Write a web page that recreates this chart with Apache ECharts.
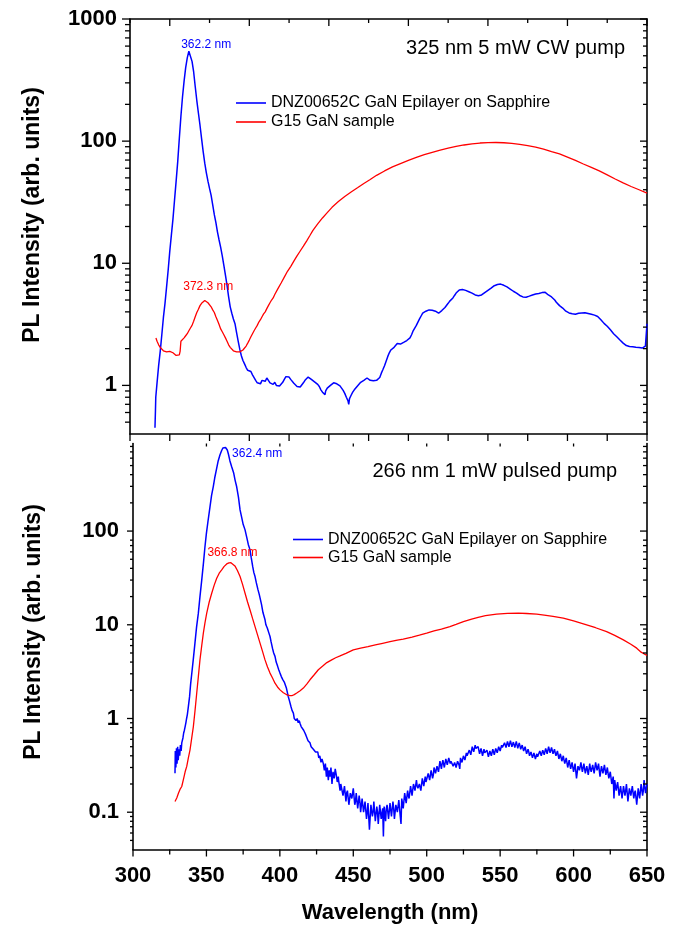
<!DOCTYPE html>
<html><head><meta charset="utf-8">
<script src="https://cdn.jsdelivr.net/npm/echarts@6/dist/echarts.min.js"></script>
<style>html,body{margin:0;padding:0;background:#fff}#c{width:676px;height:927px}</style>
</head><body><div id="c"></div>
<script>
// ---------- DATA ----------
const seriesNames = ['DNZ00652C GaN Epilayer on Sapphire', 'G15 GaN sample'];
const topTitle = '325 nm 5 mW CW pump';
const botTitle = '266 nm 1 mW pulsed pump';
const yTitle = 'PL Intensity (arb. units)';
const xTitle = 'Wavelength (nm)';

// top panel (325 nm CW) : [wavelength nm, intensity]
const topBlue = [[340.7,0.45],[341.0,0.62],[341.2,0.8],[342,1.05],[343,1.45],[344,1.9],[345,2.6],[346,3.6],[347,4.7],[348,6.4],[349,8.8],[350,12.5],[351,17],[352,23],[353,33],[354,47],[355,68],[356,105],[357,160],[358,230],[359,310],[360,400],[361,480],[362,545],[362.3,558],[363,530],[364,450],[365,370],[366,280],[367,215],[368,170],[369,135],[370,105],[371,82],[372,66],[373,55],[374,47],[375,41],[376,36],[377,30],[378,25],[379,21.5],[380,18],[381,15.5],[382,13.5],[383,11.5],[384,9.6],[385,8],[386,6.6],[387,5.3],[388,4.4],[389,3.9],[390,3.5],[391,3.2],[392,2.7],[393,2.3],[394,1.98],[395,1.75],[396,1.6],[397,1.5],[398,1.4],[399,1.33],[400,1.34],[401,1.3],[402,1.22],[403,1.18],[404,1.1],[405,1.05],[406,1.08],[407,1.03],[408,1.1],[409,1.12],[410,1.08],[411,1.15],[412,1.1],[413,1.05],[414,1.08],[415,1.02],[416,1.06],[417,1.0],[418,0.97],[419,0.99],[420,1.02],[421,1.06],[422,1.12],[423,1.18],[424,1.22],[425,1.17],[426,1.12],[427,1.08],[428,1.04],[429,1.02],[430,0.98],[431,1.0],[432,0.97],[433,0.99],[434,1.05],[435,1.1],[436,1.14],[437,1.17],[438,1.19],[439,1.12],[440,1.1],[441,1.07],[442,1.08],[443,1.02],[444,0.98],[445,0.92],[446,0.88],[447,0.9],[447.6,0.84],[448,0.9],[449,0.95],[450,0.97],[451,1.0],[452,1.02],[453,1.05],[454,1.06],[455,1.03],[456,1.05],[457,0.99],[458,0.95],[459,0.91],[460,0.86],[461,0.8],[462,0.75],[462.5,0.7],[463,0.78],[464,0.83],[465,0.88],[466,0.92],[467,0.95],[468,0.99],[469,1.02],[470,1.06],[471,1.08],[472,1.1],[473,1.13],[474,1.15],[475,1.12],[476,1.1],[477,1.07],[478,1.09],[479,1.12],[480,1.1],[481,1.13],[482,1.16],[483,1.26],[484,1.35],[485,1.45],[486,1.58],[487,1.72],[488,1.85],[489,1.95],[490,2.0],[491,2.05],[492,2.1],[493,2.2],[494,2.22],[495,2.18],[496,2.22],[497,2.25],[498,2.28],[499,2.33],[500,2.38],[501,2.45],[502,2.6],[503,2.8],[504,2.95],[505,3.1],[506,3.3],[507,3.5],[508,3.7],[509,3.9],[510,4.0],[511,4.05],[512,4.1],[513,4.15],[514,4.17],[515,4.12],[516,4.1],[517,4.05],[518,3.95],[519,3.9],[520,4.0],[521,4.1],[522,4.25],[523,4.35],[524,4.45],[525,4.7],[526,4.9],[527,5.05],[528,5.2],[529,5.45],[530,5.7],[531,5.9],[532,6.05],[533,6.15],[534,6.1],[535,6.05],[536,6.0],[537,5.9],[538,5.85],[539,5.8],[540,5.7],[541,5.6],[542,5.5],[543,5.45],[544,5.42],[545,5.42],[546,5.5],[547,5.6],[548,5.75],[549,5.9],[550,6.0],[551,6.1],[552,6.25],[553,6.4],[554,6.55],[555,6.65],[556,6.7],[557,6.8],[558,6.75],[559,6.7],[560,6.6],[561,6.5],[562,6.4],[563,6.3],[564,6.15],[565,6.0],[566,5.9],[567,5.8],[568,5.7],[569,5.55],[570,5.45],[571,5.35],[572,5.3],[573,5.25],[574,5.27],[575,5.32],[576,5.38],[577,5.45],[578,5.5],[579,5.55],[580,5.6],[581,5.62],[582,5.65],[583,5.7],[584,5.75],[585,5.8],[586,5.78],[587,5.65],[588,5.5],[589,5.4],[590,5.3],[591,5.2],[592,5.0],[593,4.8],[594,4.65],[595,4.5],[596,4.4],[597,4.3],[598,4.15],[599,4.05],[600,3.98],[601,3.92],[602,3.88],[603,3.86],[604,3.85],[605,3.83],[606,3.88],[607,3.9],[608,3.87],[609,3.92],[610,3.9],[611,3.93],[612,3.91],[613,3.88],[614,3.86],[615,3.82],[616,3.78],[617,3.76],[618,3.7],[619,3.67],[620,3.55],[621,3.45],[622,3.35],[623,3.22],[624,3.15],[625,3.05],[626,2.95],[627,2.85],[628,2.75],[629,2.65],[630,2.6],[631,2.5],[632,2.42],[633,2.35],[634,2.28],[635,2.22],[636,2.16],[637,2.12],[638,2.1],[639,2.08],[640,2.08],[641,2.07],[642,2.06],[643,2.05],[644,2.07],[645,2.04],[646,2.05],[647,2.02],[648,2.0],[649,2.1],[649.5,2.6],[650,3.2]];

const topRed = [[341.3,2.44],[342,2.3],[343,2.15],[344,2.05],[345,2.0],[346,1.92],[347,1.98],[348,1.88],[349,1.95],[350,1.9],[351,1.97],[352,1.85],[353,1.8],[354,1.76],[355,1.8],[356,1.78],[356.5,1.9],[357,2.3],[358,2.35],[359,2.45],[360,2.55],[361,2.65],[362,2.8],[363,2.95],[364,3.1],[365,3.35],[366,3.65],[367,3.95],[368,4.2],[369,4.5],[370,4.7],[371,4.85],[372,4.95],[372.6,4.95],[373,4.9],[374,4.75],[375,4.6],[376,4.4],[377,4.15],[378,3.95],[379,3.65],[380,3.4],[381,3.15],[382,2.9],[383,2.75],[384,2.6],[385,2.45],[386,2.3],[387,2.15],[388,2.05],[389,1.98],[390,1.92],[391,1.9],[392,1.88],[393,1.9],[394,1.88],[395,1.92],[396,1.95],[397,2.02],[398,2.1],[399,2.22],[400,2.35],[401,2.5],[402,2.65],[403,2.8],[404,2.95],[405,3.1],[406,3.3],[407,3.45],[408,3.65],[409,3.85],[410,4.0],[411,4.25],[412,4.5],[413,4.75],[414,5.0],[415,5.2],[416,5.55],[418,6.2],[420,6.9],[422,7.7],[424,8.6],[426,9.4],[428,10.4],[430,11.5],[432,12.6],[434,13.8],[436,15.2],[438,16.8],[440,18.6],[443,21],[446,23.5],[449,26],[452,28.7],[456,32],[460,35.2],[464,38.3],[468,41.5],[472,45],[476,48.5],[480,52.5],[485,57],[490,61.5],[495,65.5],[500,69.5],[505,73.5],[510,77.5],[515,81],[520,84.5],[525,87.5],[530,90.5],[535,93],[540,95],[545,96.5],[550,97.3],[555,97.5],[560,97],[565,96],[570,94],[575,92],[580,89.5],[585,86],[590,82],[595,78.5],[600,74],[605,69.5],[610,65],[615,61],[620,57],[625,53],[630,49],[635,45.5],[640,42.5],[645,40],[650,37.5]];

// bottom panel (266 nm pulsed)
const botBlue = [[328.6,0.26],[328.8,0.45],[329.2,0.3],[329.6,0.48],[330,0.33],[330.4,0.5],[330.8,0.36],[331.3,0.47],[331.8,0.4],[332.3,0.52],[332.8,0.45],[333.2,0.55],[334,0.62],[334.5,0.7],[335,0.75],[335.5,0.82],[336,0.9],[336.5,1.0],[337,1.1],[337.7,1.34],[338.5,1.7],[339.2,2.3],[340,3.0],[341,4.2],[342.2,6.4],[343.3,9.5],[344.5,13.3],[345.6,20],[346.8,30],[348,46],[349,68],[350,95],[351,125],[352.4,180],[353.5,240],[354.7,300],[355.8,380],[357,470],[358,560],[359.2,648],[360.3,720],[361.2,770],[362,794],[362.4,800],[363,780],[364.2,733],[365,660],[366,560],[367.2,486],[368.5,420],[369.5,350],[370.6,297],[371.8,230],[372.9,168],[374,140],[375,118],[376.3,103],[377.5,85],[378.5,72],[379.7,63],[380.5,52],[381.5,42],[382.3,36],[383.1,32.7],[384,28],[385,24],[386,21],[386.5,20],[387.5,16.5],[388.5,13.5],[389.9,11.3],[390.5,10],[391.5,9.2],[392.5,8.2],[393.3,7.5],[394,6.6],[395,5.6],[395.8,5.0],[396.7,4.6],[397.5,4.0],[398.5,3.6],[399.3,3.3],[400.1,3.05],[401,2.8],[402,2.6],[403,2.45],[403.5,2.38],[404.5,2.1],[405.7,1.72],[406.5,1.55],[407.5,1.35],[408.3,1.22],[409.2,1.14],[409.8,1.0],[410.5,1.05],[411,0.95],[411.8,1.0],[412.5,0.9],[413.2,0.95],[413.7,0.89],[414.5,0.82],[415.3,0.84],[416.2,0.75],[417.1,0.7],[417.8,0.66],[418.5,0.64],[419.2,0.58],[420,0.57],[420.5,0.55],[421.3,0.5],[422,0.52],[422.8,0.47],[423.5,0.48],[424.3,0.44],[425.1,0.43],[425.8,0.44],[426.5,0.38],[427.2,0.4],[428,0.34],[428.7,0.37],[429.6,0.33],[430.3,0.28],[431,0.33],[431.7,0.24],[432.3,0.3],[433,0.22],[433.6,0.28],[434.1,0.24],[434.8,0.3],[435.5,0.2],[436.2,0.27],[437,0.23],[437.7,0.29],[438.4,0.25],[439.1,0.21],[439.8,0.24],
[440,0.22],[441,0.17],[441.5,0.2],[442,0.21],[443,0.15],[444,0.19],[445,0.13],[445.5,0.16],[446,0.17],[447,0.12],[448,0.16],[449,0.14],[450,0.18],[451,0.12],[451.5,0.13],[452,0.16],[453,0.11],[454,0.15],[454.5,0.13],[455,0.1],[456,0.14],[457,0.1],[458,0.13],[459,0.085],[459.5,0.1],[460,0.125],[461,0.065],[462,0.12],[463,0.09],[463.5,0.1],[464,0.13],[465,0.08],[466,0.115],[466.5,0.1],[467,0.075],[468,0.12],[469,0.085],[470,0.11],[470.5,0.055],[471,0.115],[472,0.08],[472.5,0.11],[473,0.12],[474,0.085],[475,0.125],[476,0.09],[477,0.13],[477.5,0.11],[478,0.085],[479,0.12],[480,0.1],[481,0.135],[482,0.09],[482.5,0.075],[483,0.14],[484,0.11],[485,0.16],[486,0.125],[487,0.17],[487.5,0.15],[488,0.14],[489,0.19],[490,0.15],[491,0.2],[492,0.17],[493,0.22],[493.5,0.19],[494,0.18],[495,0.2],[496,0.17],[497,0.23],[498,0.19],[499,0.24],[499.5,0.21],[500,0.2],[501,0.26],[502,0.22],[503,0.28],[504,0.23],[504.5,0.25],[505,0.3],[506,0.26],[507,0.31],[508,0.27],[509,0.35],[510,0.29],[510.5,0.33],[511,0.36],[512,0.3],[513,0.37],[514,0.32],[515,0.38],[516,0.33],[516.5,0.35],[517,0.36],[518,0.31],[519,0.34],[520,0.3],[521,0.35],[522,0.32],[522.5,0.29],[523,0.38],[524,0.34],[525,0.4],[526,0.36],[527,0.43],[527.5,0.4],[528,0.39],[529,0.46],[530,0.41],[531,0.5],[532,0.44],[533,0.52],[533.5,0.48],[534,0.46],[535,0.5],[536,0.42],[537,0.48],[538,0.4],[539,0.47],[539.5,0.43],[540,0.41],[541,0.46],[542,0.39],[543,0.45],[544,0.4],[545,0.47],[545.5,0.44],[546,0.41],[547,0.48],[548,0.43],[549,0.5],[550,0.45],[551,0.52],[551.5,0.49],[552,0.47],[553,0.55],[554,0.49],[555,0.57],[556,0.5],[557,0.58],[557.5,0.54],[558,0.5],[559,0.56],[560,0.49],[561,0.57],[562,0.48],[563,0.55],[563.5,0.51],[564,0.47],[565,0.52],[566,0.45],[567,0.5],[568,0.42],[569,0.47],[569.5,0.44],[570,0.4],[571,0.44],[572,0.38],[573,0.43],[574,0.37],[575,0.42],[575.5,0.39],[576,0.38],[577,0.45],[578,0.4],[579,0.46],[580,0.41],[581,0.48],[581.5,0.45],[582,0.42],[583,0.5],[584,0.43],[585,0.49],[586,0.42],[587,0.47],[587.5,0.43],[588,0.4],[589,0.45],[590,0.37],[591,0.42],[592,0.35],[593,0.4],[593.5,0.36],[594,0.33],[595,0.38],[596,0.3],[597,0.36],[598,0.29],[599,0.34],[599.5,0.3],[600,0.27],[601,0.33],[602,0.23],[603,0.31],[604,0.28],[605,0.34],[605.5,0.3],[606,0.27],[607,0.33],[608,0.26],[609,0.31],[610,0.25],[611,0.33],[611.5,0.29],[612,0.27],[613,0.32],[614,0.26],[615,0.34],[616,0.28],[617,0.33],[617.5,0.28],[618,0.24],[619,0.31],[620,0.26],[621,0.32],[622,0.25],[623,0.3],[623.5,0.26],[624,0.23],[625,0.27],[626,0.2],[627,0.24],[627.5,0.14],[628,0.22],[629,0.17],[629.5,0.19],[630,0.21],[631,0.15],[632,0.19],[633,0.14],[634,0.19],[635,0.15],[635.5,0.17],[636,0.2],[637,0.13],[638,0.18],[639,0.15],[640,0.19],[641,0.14],[641.5,0.16],[642,0.17],[643,0.12],[644,0.18],[645,0.14],[646,0.2],[647,0.15],[647.5,0.17],[648,0.22],[649,0.16],[650,0.2]];

const botRed = [[328.6,0.13],[329.2,0.125],[329.8,0.142],[331,0.16],[332,0.175],[333.2,0.188],[334.5,0.23],[335.5,0.27],[336.6,0.308],[337.7,0.38],[338.8,0.46],[340,0.62],[341.1,0.82],[342.2,1.2],[343.4,1.87],[344.5,2.8],[345.6,4.22],[346.8,6.0],[347.9,8.14],[349,10.5],[350.2,13.3],[351.9,17.5],[353.6,21.7],[355.3,26.5],[357,31.4],[358.7,35.5],[360.4,38.5],[362.1,42],[363.8,44.6],[365.3,45.8],[366.7,46],[368,45],[369.4,42.5],[371.1,38],[372.9,32.7],[374.6,27],[376.3,21.7],[378,17.5],[379.7,14.4],[381.4,11.7],[383.1,9.57],[384.8,7.8],[386.5,6.37],[388.2,5.2],[389.9,4.22],[391.6,3.55],[393.3,3.05],[395,2.7],[396.7,2.38],[398.4,2.17],[400.1,2.02],[402.4,1.88],[404.7,1.79],[406.4,1.76],[408.1,1.75],[409.8,1.8],[411.5,1.87],[413.8,1.98],[416,2.11],[418.3,2.33],[420.5,2.59],[423.4,2.93],[426.2,3.31],[429,3.6],[432,3.95],[435,4.2],[438,4.45],[441,4.65],[445,4.95],[450,5.4],[455,5.65],[460,5.85],[465,6.1],[470,6.35],[475,6.6],[480,6.85],[484,7.02],[490,7.4],[495,7.75],[500,8.14],[505,8.6],[510,9.0],[515.8,9.57],[520,10.1],[525,10.8],[530.6,11.5],[535,12.0],[540,12.5],[547.6,13.0],[555,13.25],[562.4,13.3],[568,13.2],[574.9,13.0],[580,12.7],[586,12.3],[593,11.8],[600,11.0],[608.9,9.98],[615,9.3],[622.5,8.46],[628,7.7],[633.9,6.9],[639,6.2],[643,5.63],[646,5.1],[650,4.7]];

// peak annotations: [wavelength, intensity, label]
const topPeaks = [[362.2, 556, '362.2 nm'], [372.3, 4.95, '372.3 nm']];
const botPeaks = [[362.4, 800, '362.4 nm'], [366.7, 46, '366.8 nm']];

// axis ranges & ticks
const topX = [325, 650], topY = [0.4, 1000];
const botX = [300, 650], botY = [0.04, 860];
const topXMajor = [350, 400, 450, 500, 550, 600, 650];
const topXMinor = [325, 375, 425, 475, 525, 575, 625];
const botXMajor = [300, 350, 400, 450, 500, 550, 600, 650];
const botXMinor = [325, 375, 425, 475, 525, 575, 625];
const botXTopTicks = [350, 400, 450, 500, 550, 600];
const topYMajor = [1, 10, 100, 1000];
const topYMinor = [0.5,0.6,0.7,0.8,0.9,2,3,4,5,6,7,8,9,20,30,40,50,60,70,80,90,200,300,400,500,600,700,800,900];
const botYMajor = [0.1, 1, 10, 100];
const botYMinor = [0.05,0.06,0.07,0.08,0.09,0.2,0.3,0.4,0.5,0.6,0.7,0.8,0.9,2,3,4,5,6,7,8,9,20,30,40,50,60,70,80,200,300,400,500,600,700,800];

// ---------- CHART ----------
const FONT = 'Liberation Sans, Arial, Helvetica, sans-serif';
const BLUE = '#0000ff', RED = '#ff0000';
const chart = echarts.init(document.getElementById('c'), null, {renderer: 'canvas'});

function tickRows(xr, yr, xMaj, xMin, yMaj, yMin, cfg) {
  const rows = [];
  yMaj.forEach(v => { rows.push([xr[0], v, 0, cfg.yMajL]); rows.push([xr[0], v, 1, cfg.yMajR]); });
  yMin.forEach(v => { rows.push([xr[0], v, 0, cfg.yMinL]); rows.push([xr[0], v, 1, cfg.yMinR]); });
  xMaj.forEach(v => rows.push([v, yr[0], 2, cfg.xMajB]));
  xMin.forEach(v => rows.push([v, yr[0], 2, cfg.xMinB]));
  (cfg.topMaj || []).forEach(v => rows.push([v, yr[0], 3, cfg.xMajT]));
  (cfg.topMin || []).forEach(v => rows.push([v, yr[0], 3, cfg.xMinT]));
  return rows;
}
function tickSeries(xi, yi, xr, yr, rows) {
  return {
    type: 'custom', coordinateSystem: 'cartesian2d', xAxisIndex: xi, yAxisIndex: yi,
    silent: true, clip: false, z: 20, encode: {x: 0, y: 1}, data: rows,
    renderItem: function (params, api) {
      const a = api.value(0), b = api.value(1), side = api.value(2), len = api.value(3);
      let p, shape;
      if (side === 0) { p = api.coord([xr[0], b]); shape = {x1: p[0] - len, y1: p[1], x2: p[0], y2: p[1]}; }
      else if (side === 1) { p = api.coord([xr[1], b]); shape = {x1: p[0] - len, y1: p[1], x2: p[0], y2: p[1]}; }
      else if (side === 2) { p = api.coord([a, yr[0]]); shape = {x1: p[0], y1: p[1], x2: p[0], y2: p[1] + len}; }
      else { p = api.coord([a, yr[1]]); shape = {x1: p[0], y1: p[1], x2: p[0], y2: p[1] + len}; }
      return {type: 'line', shape: shape, style: {stroke: '#000', lineWidth: 1.3}};
    }
  };
}
function peakMark(peaks, idx, color, offset) {
  const p = peaks[idx];
  return {
    symbol: 'circle', symbolSize: 1, itemStyle: {color: 'rgba(0,0,0,0)'}, silent: true,
    data: [{coord: [p[0], p[1]], label: {show: true, formatter: p[2], position: 'inside', offset: offset,
      color: color, fontSize: 12, fontFamily: FONT}}]
  };
}
const lbl = v => String(+Number(v).toPrecision(6));
const axLine = {show: true, lineStyle: {color: '#000', width: 1.6}};
const boldLbl = {fontFamily: FONT, fontWeight: 'bold', fontSize: 22, color: '#000'};
const legendBase = {orient: 'vertical', padding: 0, icon: 'rect', itemWidth: 30, itemHeight: 1.6,
  data: seriesNames, textStyle: {fontFamily: FONT, fontSize: 16, color: '#000'}, selectedMode: false};

const option = {
  animation: false,
  backgroundColor: '#fff',
  grid: [
    {left: 130, top: 19, width: 517, height: 415},
    {left: 133, top: 443.5, width: 514, height: 406}
  ],
  xAxis: [
    {gridIndex: 0, type: 'value', min: topX[0], max: topX[1], position: 'bottom', axisLine: axLine,
      axisTick: {show: false}, axisLabel: {show: false}, splitLine: {show: false}},
    {gridIndex: 0, type: 'value', min: topX[0], max: topX[1], position: 'top', axisLine: axLine,
      axisTick: {show: false}, axisLabel: {show: false}, splitLine: {show: false}},
    {gridIndex: 1, type: 'value', min: botX[0], max: botX[1], interval: 50, position: 'bottom', axisLine: axLine,
      axisTick: {show: false}, splitLine: {show: false},
      axisLabel: Object.assign({margin: 15}, boldLbl),
      name: xTitle, nameLocation: 'middle', nameGap: 52,
      nameTextStyle: {fontFamily: FONT, fontWeight: 'bold', fontSize: 22, color: '#000'}}
  ],
  yAxis: [
    {gridIndex: 0, type: 'log', logBase: 10, min: topY[0], max: topY[1], position: 'left', axisLine: axLine,
      axisTick: {show: false}, splitLine: {show: false},
      axisLabel: Object.assign({margin: 13, showMinLabel: false, formatter: lbl}, boldLbl)},
    {gridIndex: 0, type: 'log', logBase: 10, min: topY[0], max: topY[1], position: 'right', axisLine: axLine,
      axisTick: {show: false}, splitLine: {show: false}, axisLabel: {show: false}},
    {gridIndex: 1, type: 'log', logBase: 10, min: botY[0], max: botY[1], position: 'left', axisLine: axLine,
      axisTick: {show: false}, splitLine: {show: false},
      axisLabel: Object.assign({margin: 14, showMinLabel: false, showMaxLabel: false, formatter: lbl}, boldLbl)},
    {gridIndex: 1, type: 'log', logBase: 10, min: botY[0], max: botY[1], position: 'right', axisLine: axLine,
      axisTick: {show: false}, splitLine: {show: false}, axisLabel: {show: false}}
  ],
  legend: [
    Object.assign({left: 236, top: 95, itemGap: 3}, legendBase),
    Object.assign({left: 293, top: 531.5, itemGap: 2}, legendBase)
  ],
  graphic: [
    {type: 'text', x: 33, y: 215, rotation: Math.PI / 2, z: 50,
      style: {text: yTitle, fill: '#000', font: 'bold 23px ' + FONT, align: 'center', verticalAlign: 'middle'}},
    {type: 'text', x: 34, y: 632, rotation: Math.PI / 2, z: 50,
      style: {text: yTitle, fill: '#000', font: 'bold 23px ' + FONT, align: 'center', verticalAlign: 'middle'}},
    {type: 'text', x: 625, y: 48, z: 50,
      style: {text: topTitle, fill: '#000', font: '20px ' + FONT, align: 'right', verticalAlign: 'middle'}},
    {type: 'text', x: 617, y: 471, z: 50,
      style: {text: botTitle, fill: '#000', font: '20px ' + FONT, align: 'right', verticalAlign: 'middle'}}
  ],
  series: [
    {name: seriesNames[0], type: 'line', xAxisIndex: 0, yAxisIndex: 0, data: topBlue, symbol: 'none',
      color: BLUE, lineStyle: {color: BLUE, width: 1.5}, markPoint: peakMark(topPeaks, 0, BLUE, [17, -5.5])},
    {name: seriesNames[1], type: 'line', xAxisIndex: 0, yAxisIndex: 0, data: topRed, symbol: 'none',
      color: RED, lineStyle: {color: RED, width: 1.3}, markPoint: peakMark(topPeaks, 1, RED, [3, -14])},
    {name: seriesNames[0], type: 'line', xAxisIndex: 2, yAxisIndex: 2, data: botBlue, symbol: 'none',
      color: BLUE, lineStyle: {color: BLUE, width: 1.5}, markPoint: peakMark(botPeaks, 0, BLUE, [32.5, 7])},
    {name: seriesNames[1], type: 'line', xAxisIndex: 2, yAxisIndex: 2, data: botRed, symbol: 'none',
      color: RED, lineStyle: {color: RED, width: 1.3}, markPoint: peakMark(botPeaks, 1, RED, [1.5, -10])},
    tickSeries(0, 0, topX, topY, tickRows(topX, topY, topXMajor, topXMinor, topYMajor, topYMinor,
      {yMajL: 8, yMinL: 5, yMajR: 7, yMinR: 4, xMajB: 7, xMinB: 7, topMaj: topXMajor, topMin: topXMinor, xMajT: 7, xMinT: 4})),
    tickSeries(2, 2, botX, botY, tickRows(botX, botY, botXMajor, botXMinor, botYMajor, botYMinor,
      {yMajL: 6, yMinL: 3, yMajR: 7, yMinR: 4, xMajB: 7, xMinB: 5, topMaj: botXTopTicks, xMajT: 3}))
  ]
};
chart.setOption(option);
</script>
</body></html>
